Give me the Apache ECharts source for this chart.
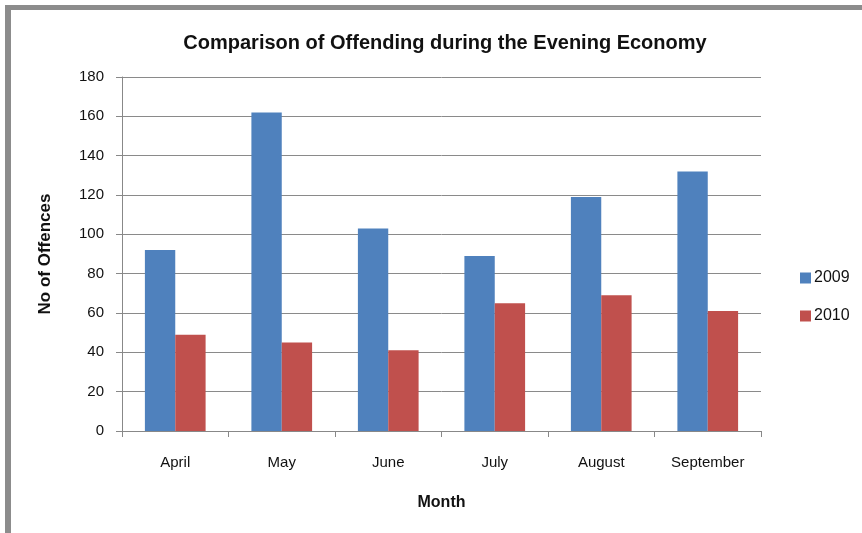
<!DOCTYPE html>
<html>
<head>
<meta charset="utf-8">
<script src="https://cdn.jsdelivr.net/npm/echarts@6/dist/echarts.min.js"></script>
<style>
html,body{margin:0;padding:0;background:#fff;}
#chart{width:862px;height:533px;position:absolute;left:0;top:0;}
#frame{position:absolute;left:5px;top:5px;width:857px;height:528px;border-left:6px solid #8c8c8c;border-top:5px solid #8c8c8c;box-sizing:border-box;pointer-events:none;}
</style>
</head>
<body>
<div id="chart"></div>
<div id="frame"></div>
<script>
const categories = ['April', 'May', 'June', 'July', 'August', 'September'];
const values2009 = [92, 162, 103, 89, 119, 132];
const values2010 = [49, 45, 41, 65, 69, 61];
const yTicks = [0, 20, 40, 60, 80, 100, 120, 140, 160, 180];

const FONT = "'Liberation Sans', sans-serif";
const chart = echarts.init(document.getElementById('chart'));
chart.setOption({
  animation: false,
  backgroundColor: '#fff',
  title: {
    text: 'Comparison of Offending during the Evening Economy',
    left: 440, top: 28, textAlign: 'center',
    textStyle: {fontFamily: FONT, fontSize: 20, fontWeight: 'bold', color: '#111'}
  },
  legend: {
    orient: 'vertical', left: 795, top: 265, itemGap: 22,
    itemWidth: 11, itemHeight: 11, icon: 'rect',
    textStyle: {fontFamily: FONT, fontSize: 16, color: '#111', padding: [0,0,0,-2]},
    data: ['2009', '2010']
  },
  grid: {left: 122, right: 101, top: 77, bottom: 102, containLabel: false},
  xAxis: {
    type: 'category', data: categories,
    name: 'Month', nameLocation: 'middle', nameGap: 64,
    nameTextStyle: {fontFamily: FONT, fontSize: 16, fontWeight: 'bold', color: '#111'},
    axisLine: {lineStyle: {color: '#888', width: 1}},
    axisTick: {show: true, length: 6, lineStyle: {color: '#888'}},
    axisLabel: {fontFamily: FONT, fontSize: 15, color: '#111', margin: 24}
  },
  yAxis: {
    type: 'value', min: yTicks[0], max: yTicks[yTicks.length-1], interval: 20,
    name: 'No of Offences', nameLocation: 'middle', nameGap: 68, nameRotate: 90,
    nameTextStyle: {fontFamily: FONT, fontSize: 17, fontWeight: 'bold', color: '#111'},
    axisLine: {show: true, lineStyle: {color: '#888', width: 1}},
    axisTick: {show: true, length: 6, lineStyle: {color: '#888'}},
    axisLabel: {fontFamily: FONT, fontSize: 15, color: '#111', margin: 18},
    splitLine: {lineStyle: {color: '#8a8a8a', width: 1}}
  },
  series: [
    {name: '2009', type: 'bar', data: values2009, barGap: '0%', barCategoryGap: '43%',
     itemStyle: {color: '#4F81BD'}},
    {name: '2010', type: 'bar', data: values2010, barGap: '0%', barCategoryGap: '43%',
     itemStyle: {color: '#C0504D'}}
  ]
});
</script>
</body>
</html>
